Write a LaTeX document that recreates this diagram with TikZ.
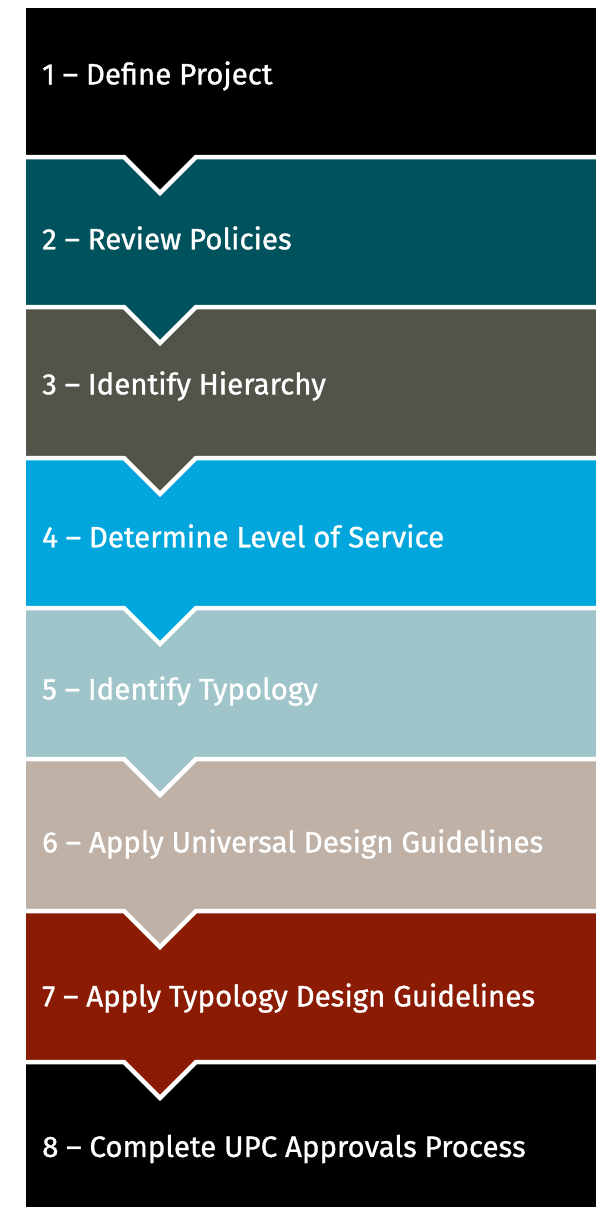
\documentclass[tikz,border=0pt]{standalone}
\usepackage{fontspec}
\setmainfont{Fira Sans}
\newfontfamily\stepfont{Fira Sans}[Ligatures=TeX, FakeBold=1]
\definecolor{teal1}{HTML}{00535C}
\definecolor{slate}{HTML}{53534A}
\definecolor{sky}{HTML}{00A6DC}
\definecolor{mist}{HTML}{9FC4CA}
\definecolor{sand}{HTML}{C0B1A6}
\definecolor{rust}{HTML}{8B1B03}
\tikzset{steplabel/.style={anchor=west, text=white, inner sep=0pt, font=\fontsize{29.5}{32}\stepfont}}
\begin{document}
\begin{tikzpicture}[x=1pt,y=-1pt]
\useasboundingbox (0,0) rectangle (596,1207);
\fill[black] (26,8) rectangle (596,157);
\fill[teal1] (26,157) rectangle (596,307);
\fill[slate] (26,307) rectangle (596,458);
\fill[sky] (26,458) rectangle (596,608);
\fill[mist] (26,608) rectangle (596,759);
\fill[sand] (26,759) rectangle (596,911);
\fill[rust] (26,911) rectangle (596,1062);
\fill[black] (26,1062) rectangle (596,1207);
\foreach \y/\c in {157/black,307/teal1,458/slate,608/sky,759/mist,911/sand,1062/rust}{
  \fill[\c] (124,\y) -- (160,\y+36) -- (196,\y) -- cycle;
  \draw[white, line width=4.5pt] (26,\y) -- (124,\y) -- (160,\y+36) -- (196,\y) -- (596,\y);
}
\node[steplabel] (s1) at (42,76) {1 -- Define Project};
\node[steplabel] (s2) at (42,238) {2 -- Review Policies};
\node[steplabel] (s3) at (42,386) {3 -- Identify Hierarchy};
\node[steplabel] (s4) at (42,536) {4 -- Determine Level of Service};
\node[steplabel] (s5) at (42,691) {5 -- Identify Typology};
\node[steplabel] (s6) at (42,844) {6 -- Apply Universal Design Guidelines};
\node[steplabel] (s7) at (42,998) {7 -- Apply Typology Design Guidelines};
\node[steplabel] (s8) at (42,1149) {8 -- Complete UPC Approvals Process};
\end{tikzpicture}
\end{document}
